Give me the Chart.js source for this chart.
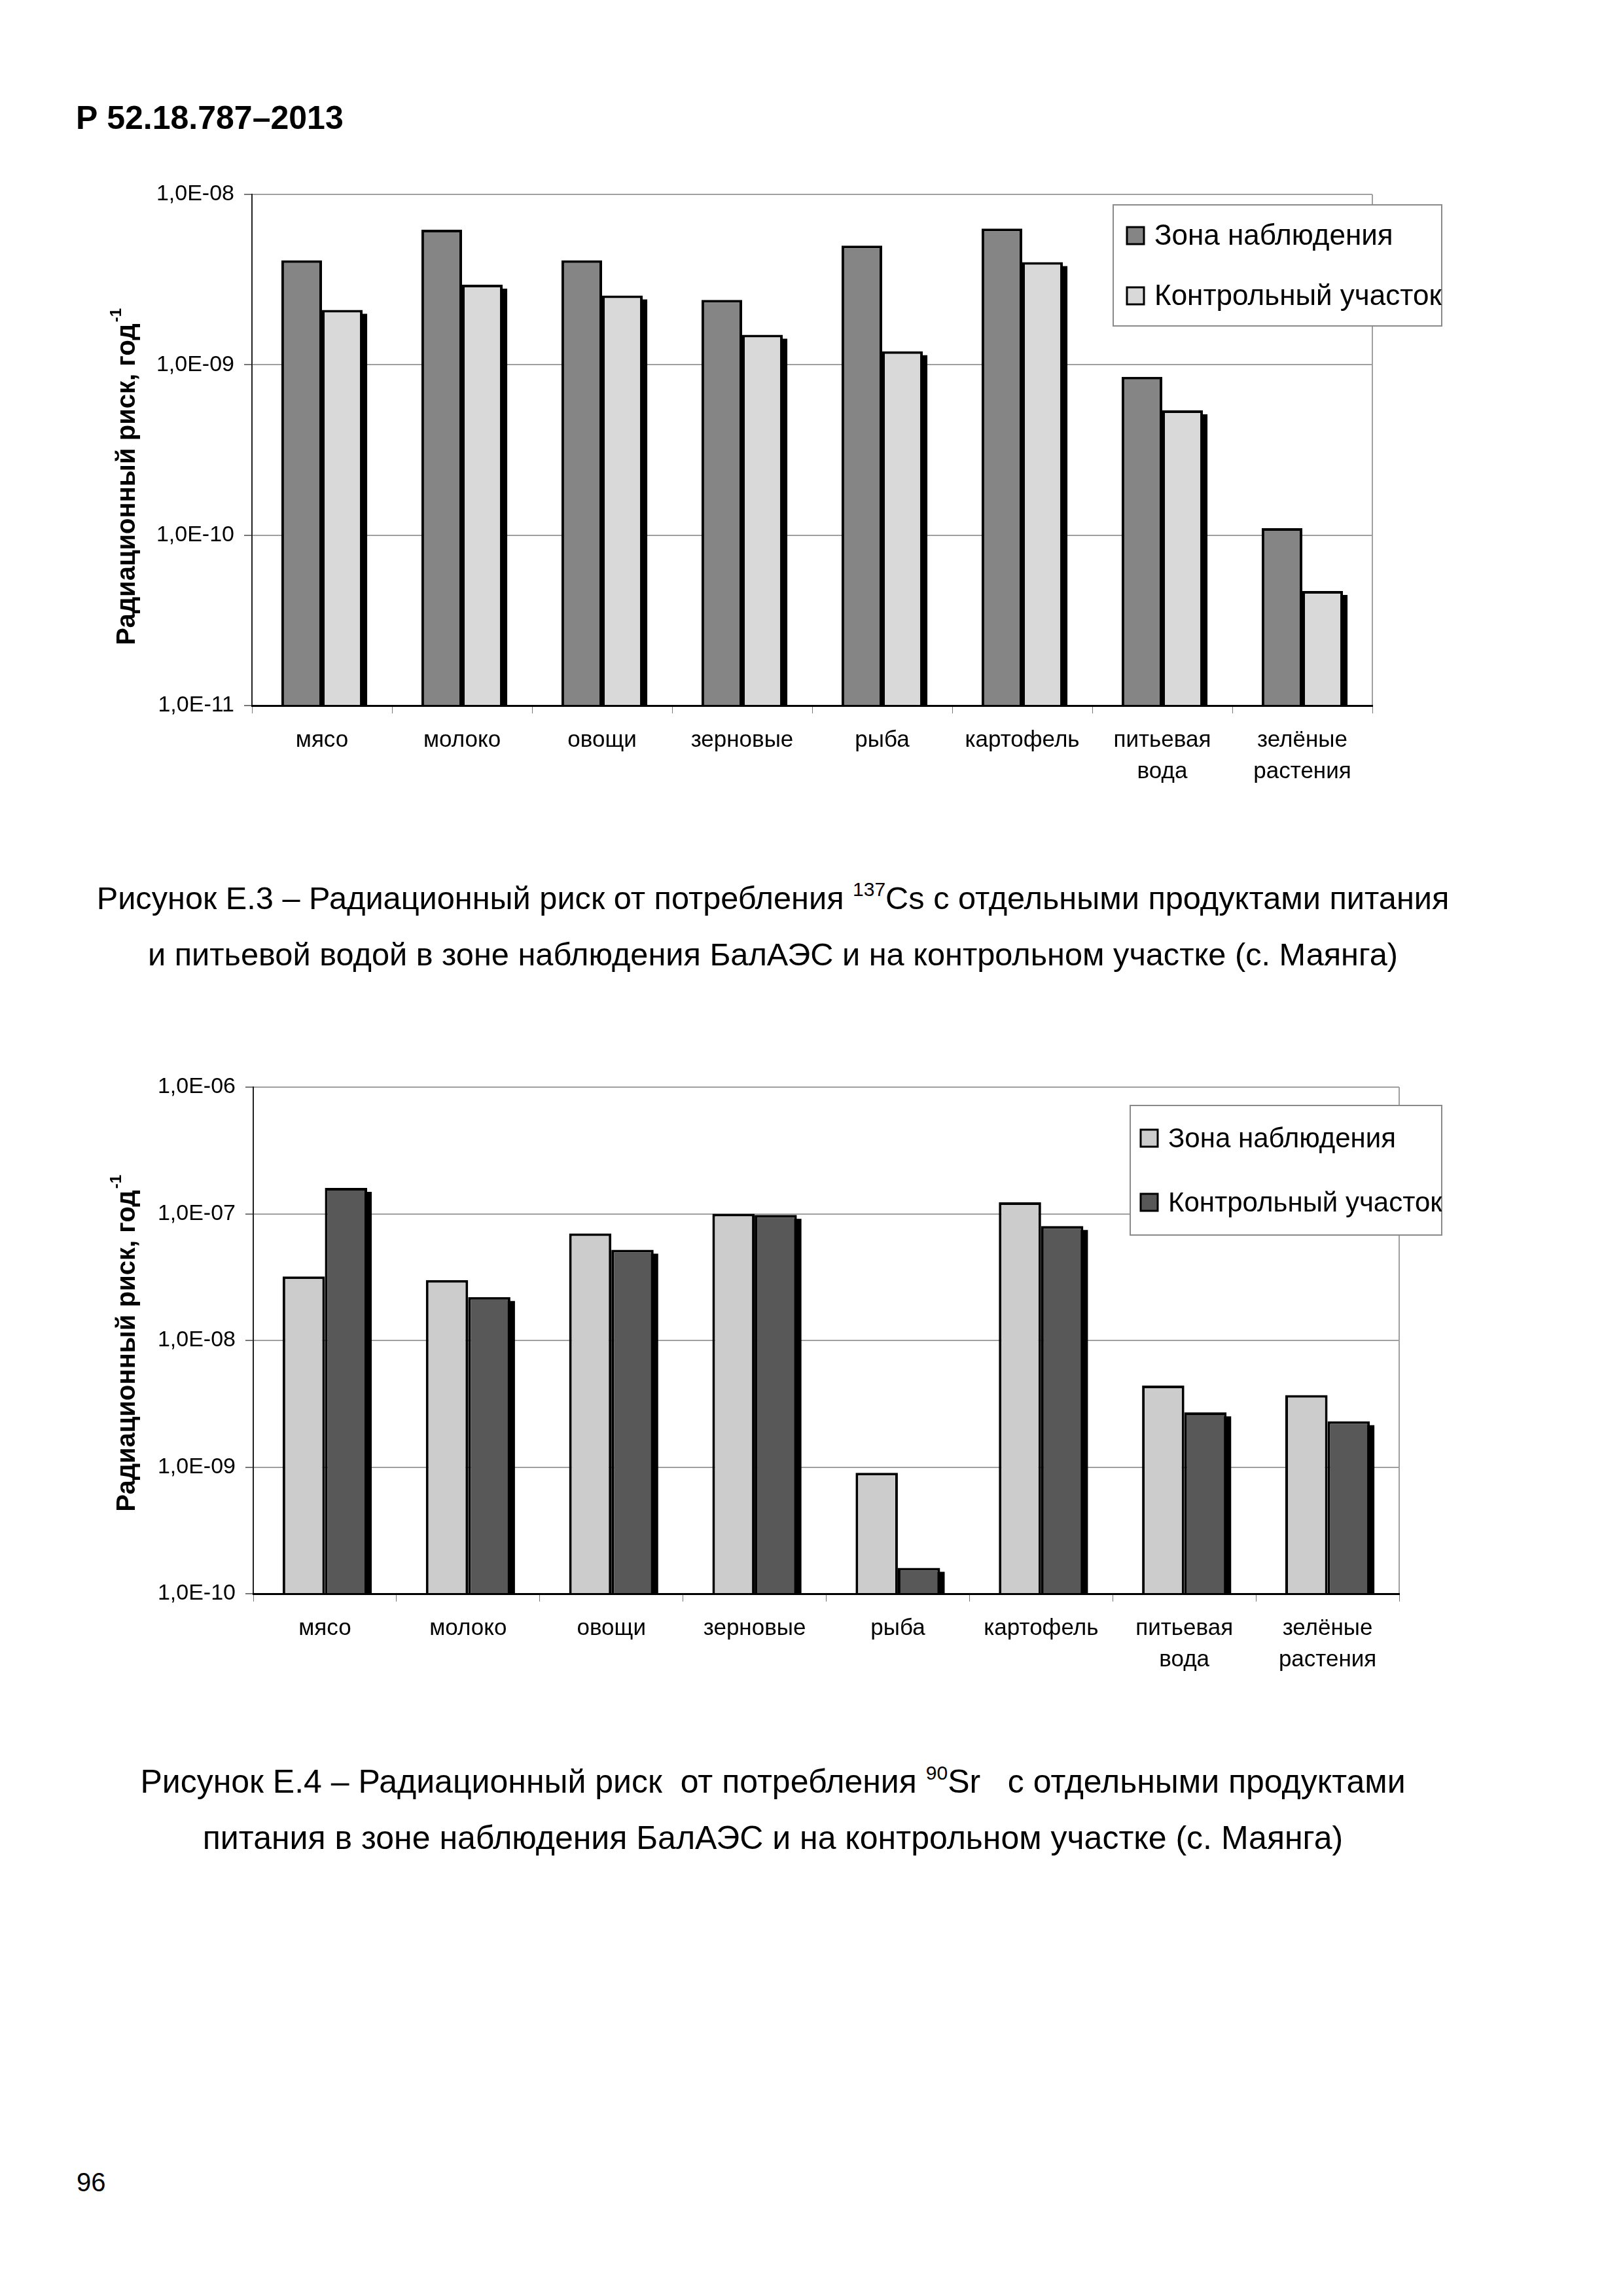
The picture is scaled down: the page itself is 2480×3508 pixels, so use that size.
<!DOCTYPE html>
<html lang="ru">
<head>
<meta charset="utf-8">
<title>Рисунок Е.3, Е.4</title>
<script src="https://cdn.jsdelivr.net/npm/chart.js@4.4.0/dist/chart.umd.min.js"></script>
<style>
  html, body { margin: 0; padding: 0; background: #fff; }
  #page { position: relative; width: 2480px; height: 3508px; background: #fff; overflow: hidden;
          font-family: 'Liberation Sans', Arial, sans-serif; color: #000; }
  .abs { position: absolute; white-space: nowrap; }
  #header { left: 116px; top: 155px; font-size: 50px; line-height: 50px; font-weight: bold; }
  .caption { left: 100px; width: 2162px; text-align: center; font-size: 50px; line-height: 86px; }
  .caption sup { font-size: 30px; line-height: 0; vertical-align: baseline; position: relative; top: -20px; }
  #cap1 { font-size: 48.7px; }
  #pagenum { left: 117px; top: 3314px; font-size: 40px; line-height: 40px; }
  .chartbox { position: absolute; left: 150px; width: 2100px; height: 980px; }
</style>
</head>
<body>
<div id="page">
  <div id="header" class="abs">Р 52.18.787–2013</div>

  <div class="chartbox" style="top:250px"><canvas id="chartCs" width="2100" height="980"></canvas></div>
  <div id="cap1" class="caption abs" style="top:1329px">Рисунок Е.3 – Радиационный риск от потребления <sup>137</sup>Cs с отдельными продуктами питания<br>и питьевой водой в зоне наблюдения БалАЭС и на контрольном участке (с. Маянга)</div>

  <div class="chartbox" style="top:1610px"><canvas id="chartSr" width="2100" height="980"></canvas></div>
  <div class="caption abs" style="top:2679px">Рисунок Е.4 – Радиационный риск&nbsp; от потребления <sup>90</sup>Sr&nbsp;&nbsp; с отдельными продуктами<br>питания в зоне наблюдения БалАЭС и на контрольном участке (с. Маянга)</div>

  <div id="pagenum" class="abs">96</div>
</div>

<script>
const categories = ['мясо', 'молоко', 'овощи', 'зерновые', 'рыба', 'картофель', ['питьевая', 'вода'], ['зелёные', 'растения']];
const seriesNames = ['Зона наблюдения', 'Контрольный участок'];
const axisTitle = 'Радиационный риск, год';
const axisTitleSup = '-1';

// Рисунок Е.3 - 137Cs
const csZone = [4.1e-9, 6.2e-9, 4.1e-9, 2.4e-9, 5.0e-9, 6.3e-9, 8.5e-10, 1.1e-10];
const csControl = [2.1e-9, 2.95e-9, 2.55e-9, 1.5e-9, 1.2e-9, 4.0e-9, 5.4e-10, 4.7e-11];
const csTicks = [1e-11, 1e-10, 1e-9, 1e-8];
const csTickLabels = ['1,0E-11', '1,0E-10', '1,0E-09', '1,0E-08'];

// Рисунок Е.4 - 90Sr
const srZone = [3.2e-8, 3.0e-8, 7.0e-8, 1.0e-7, 9.0e-10, 1.23e-7, 4.4e-9, 3.7e-9];
const srControl = [1.6e-7, 2.2e-8, 5.2e-8, 9.8e-8, 1.6e-10, 8.0e-8, 2.7e-9, 2.3e-9];
const srTicks = [1e-10, 1e-9, 1e-8, 1e-7, 1e-6];
const srTickLabels = ['1,0E-10', '1,0E-09', '1,0E-08', '1,0E-07', '1,0E-06'];

const FONT = "'Liberation Sans', Arial, sans-serif";
Chart.defaults.font.family = FONT;
Chart.defaults.color = '#000';

// grey right border of the plot area
const plotFrame = {
  id: 'plotFrame',
  beforeDatasetsDraw(chart) {
    const { ctx, chartArea: a } = chart;
    ctx.save();
    ctx.strokeStyle = '#a0a0a0';
    ctx.lineWidth = 2;
    ctx.beginPath();
    ctx.moveTo(a.right, a.top);
    ctx.lineTo(a.right, a.bottom);
    ctx.stroke();
    ctx.restore();
  }
};

// black drop shadow behind the right-hand bar of each pair
// (bars clip themselves, so the shadow is painted from the bar elements first)
const barShadow = {
  id: 'barShadow',
  beforeDatasetDraw(chart, args) {
    if (args.index !== 1) return;
    const { ctx, chartArea: a } = chart;
    ctx.save();
    ctx.beginPath();
    ctx.rect(a.left, a.top, a.right - a.left, a.bottom - a.top);
    ctx.clip();
    ctx.fillStyle = '#000';
    args.meta.data.forEach(bar => {
      const p = bar.getProps(['x', 'y', 'base', 'width'], true);
      ctx.fillRect(p.x - p.width / 2 + 7, p.y + 6, p.width, p.base - p.y);
    });
    ctx.restore();
  }
};

// legend in a framed box laid over the plot
const boxLegend = {
  id: 'boxLegend',
  afterDraw(chart, args, o) {
    const ctx = chart.ctx;
    ctx.save();
    ctx.fillStyle = '#fff';
    ctx.fillRect(o.x, o.y, o.w, o.h);
    ctx.strokeStyle = '#8a8a8a';
    ctx.lineWidth = 2;
    ctx.strokeRect(o.x, o.y, o.w, o.h);
    ctx.beginPath();
    ctx.rect(o.x, o.y, o.w, o.h);
    ctx.clip();
    ctx.font = o.size + 'px ' + FONT;
    ctx.textBaseline = 'middle';
    chart.data.datasets.forEach((ds, i) => {
      const cy = o.y + o.rowY[i];
      const bx = o.x + o.boxX;
      ctx.fillStyle = ds.backgroundColor;
      ctx.fillRect(bx, cy - o.box / 2, o.box, o.box);
      ctx.strokeStyle = '#000';
      ctx.lineWidth = 3;
      ctx.strokeRect(bx, cy - o.box / 2, o.box, o.box);
      ctx.fillStyle = '#000';
      ctx.fillText(ds.label, o.x + o.textX, cy + 2);
    });
    ctx.restore();
  }
};

// rotated y axis title with a superscript
const axisTitlePlugin = {
  id: 'axisTitle',
  afterDraw(chart, args, o) {
    const ctx = chart.ctx;
    ctx.save();
    ctx.translate(o.x, o.y);
    ctx.rotate(-Math.PI / 2);
    ctx.fillStyle = '#000';
    ctx.textBaseline = 'middle';
    ctx.font = 'bold ' + o.size + 'px ' + FONT;
    const w = ctx.measureText(o.text).width;
    ctx.fillText(o.text, -w / 2, 0);
    ctx.font = 'bold ' + Math.round(o.size * 0.6) + 'px ' + FONT;
    ctx.fillText(o.sup, w / 2 + 2, -o.size * 0.42);
    ctx.restore();
  }
};

function makeChart(id, zone, control, colors, ticks, tickLabels, box) {
  return new Chart(document.getElementById(id), {
    type: 'bar',
    data: {
      labels: categories,
      datasets: [
        { label: seriesNames[0], data: zone, backgroundColor: colors[0] },
        { label: seriesNames[1], data: control, backgroundColor: colors[1] }
      ]
    },
    options: {
      responsive: false,
      animation: false,
      devicePixelRatio: 1,
      layout: { padding: { top: box.top, right: box.right, left: 0, bottom: 0 } },
      datasets: {
        bar: {
          borderColor: '#000',
          borderWidth: 4,
          categoryPercentage: box.cat,
          barPercentage: 1.0,
          clip: 0
        }
      },
      plugins: {
        legend: { display: false },
        tooltip: { enabled: false },
        boxLegend: box.legend,
        axisTitle: { x: 45, y: box.titleY, size: 40, text: axisTitle, sup: axisTitleSup }
      },
      scales: {
        x: {
          offset: true,
          grid: { display: true, offset: true, drawOnChartArea: false, drawTicks: true, tickLength: 12, tickColor: '#777' },
          border: { display: true, color: '#000', width: 3, z: 1 },
          ticks: { color: '#000', font: { size: 35, lineHeight: 1.35 }, padding: 18, maxRotation: 0, autoSkip: false },
          afterFit: s => { s.height = box.xh; }
        },
        y: {
          type: 'logarithmic',
          min: ticks[0],
          max: ticks[ticks.length - 1],
          afterBuildTicks: s => { s.ticks = ticks.map(v => ({ value: v })); },
          grid: { color: '#a0a0a0', lineWidth: 2, tickLength: 12, tickColor: '#777' },
          border: { display: true, color: '#222', width: 2 },
          ticks: { color: '#000', font: { size: 34 }, padding: 15, autoSkip: false,
                   callback: (v, i) => tickLabels[i] },
          afterFit: s => { s.width = box.yw; }
        }
      }
    },
    plugins: [plotFrame, barShadow, boxLegend, axisTitlePlugin]
  });
}

makeChart('chartCs', csZone, csControl, ['#858585', '#d9d9d9'], csTicks, csTickLabels, {
  top: 47, right: 153, yw: 235, xh: 152, cat: 0.58, titleY: 490,
  legend: { x: 1551, y: 63, w: 502, h: 185, rowY: [47, 139], boxX: 21, box: 26, textX: 63, size: 44 }
});

makeChart('chartSr', srZone, srControl, ['#cccccc', '#585858'], srTicks, srTickLabels, {
  top: 51, right: 112, yw: 237, xh: 155, cat: 0.59, titleY: 454,
  legend: { x: 1577, y: 79, w: 476, h: 198, rowY: [50, 148], boxX: 16, box: 26, textX: 58, size: 42 }
});
</script>
</body>
</html>
